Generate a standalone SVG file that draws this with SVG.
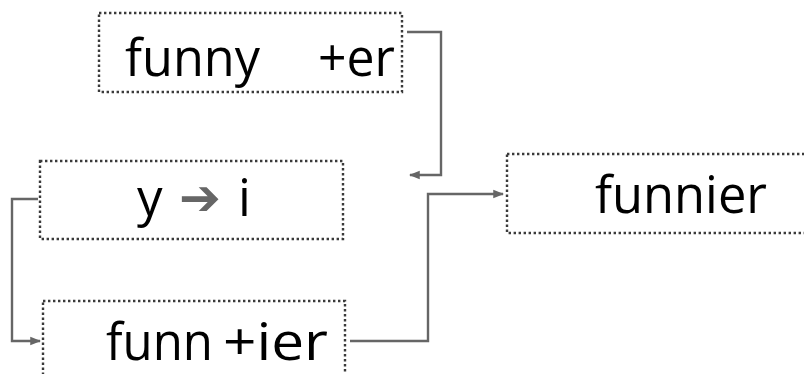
<svg xmlns="http://www.w3.org/2000/svg" width="804" height="374" viewBox="0 0 804 374">
<defs>
<style>
.box{fill:#fff;stroke:#3a3a3a;stroke-width:2.4;stroke-dasharray:2.4 2.6}
.t{font-family:"Open Sans","DejaVu Sans",sans-serif;font-size:51px;fill:#000}
.c{fill:none;stroke:#666;stroke-width:2.4}
</style>
<marker id="ah" viewBox="0 0 10 10" refX="9" refY="5" markerWidth="4.5" markerHeight="4.5" orient="auto" markerUnits="strokeWidth">
<path d="M0,1 L10,5 L0,9 Z" fill="#666"/>
</marker>
</defs>
<rect width="804" height="374" fill="#fff"/>
<g id="connectors">
<path class="c" d="M407,32 H441 V175 H410" marker-end="url(#ah)"/>
<path class="c" d="M38,199 H12 V341 H40" marker-end="url(#ah)"/>
<path class="c" d="M350,341 H428 V194 H503" marker-end="url(#ah)"/>
</g>
<g id="node-funny">
<rect class="box" x="99" y="13" width="303" height="79"/>
<text class="t" x="125" y="76" textLength="135" lengthAdjust="spacingAndGlyphs">funny</text>
<text class="t" x="318" y="76" textLength="77" lengthAdjust="spacingAndGlyphs">+er</text>
</g>
<g id="node-yi">
<rect class="box" x="40" y="161" width="303" height="78"/>
<text class="t" x="137" y="216">y</text>
<text x="179" y="215" font-family="DejaVu Sans,sans-serif" font-size="50" fill="#666">➔</text>
<text class="t" x="238" y="216">i</text>
</g>
<g id="node-funnier-stem">
<rect class="box" x="43" y="301" width="302" height="85"/>
<text class="t" x="106" y="360" textLength="107" lengthAdjust="spacingAndGlyphs">funn</text>
<text class="t" x="223" y="360" textLength="105" lengthAdjust="spacingAndGlyphs">+ier</text>
</g>
<g id="node-funnier">
<rect class="box" x="507" y="154" width="310" height="79"/>
<text class="t" x="595" y="213" textLength="172" lengthAdjust="spacingAndGlyphs">funnier</text>
</g>
</svg>
